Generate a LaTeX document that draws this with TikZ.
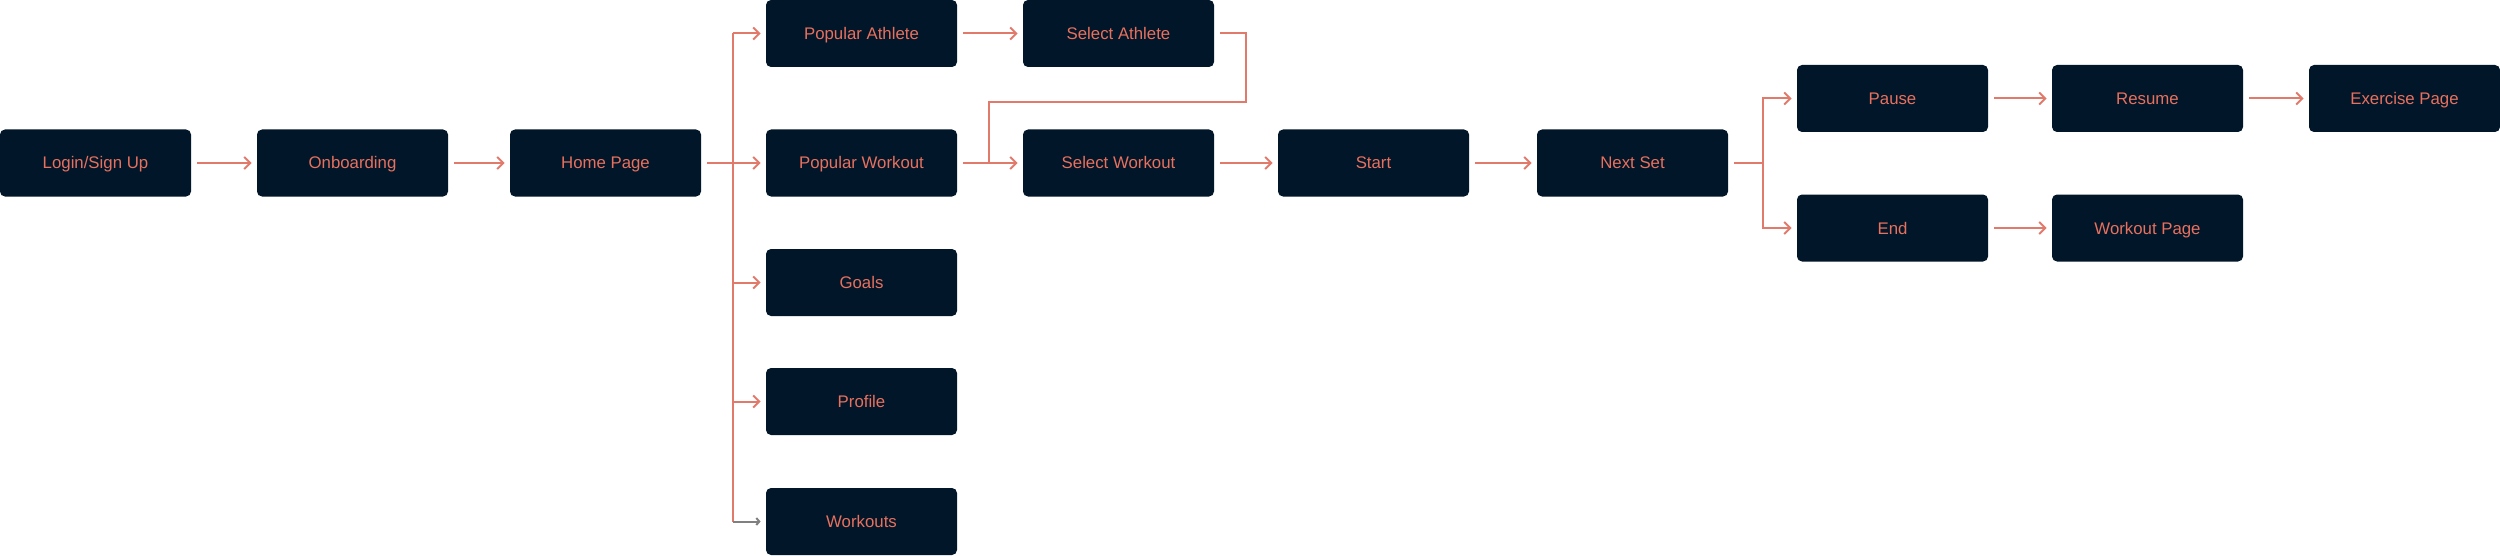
\documentclass[tikz,border=0pt]{standalone}
\usepackage{fontspec}
\setmainfont{Liberation Sans}
\usepackage{tikz}
\usetikzlibrary{arrows.meta}

\definecolor{navy}{HTML}{011628}
\definecolor{salmon}{HTML}{E8705E}
\definecolor{linkred}{HTML}{E27A6B}

\begin{document}
\begin{tikzpicture}[x=0.5pt,y=-0.5pt,
    screen/.style={fill=navy,rounded corners=2.5pt,minimum width=95.5pt,minimum height=33.5pt,
        inner sep=0pt,text=salmon,text height=7.5pt,text depth=1.5pt,
        font=\fontsize{8.4}{10}\selectfont},
    wire/.style={draw=linkred,line width=1pt},
    link/.style={wire,->,shorten >=2.5pt},
    outgap/.style={shorten <=3pt}]
\useasboundingbox (0,0) rectangle (2500,556);
\begin{scope}[>={Straight Barb[length=3pt,width=6pt]}]

    \node[screen] (login)    at (95.5,163)   {Login/Sign Up};
    \node[screen] (onboard)  at (352.5,163)  {Onboarding};
    \node[screen] (home)     at (605.5,163)  {Home Page};
    \node[screen] (popath)   at (861.5,33.5) {Popular Athlete};
    \node[screen] (popwork)  at (861.5,163)  {Popular Workout};
    \node[screen] (goals)    at (861.5,282.5) {Goals};
    \node[screen] (profile)  at (861.5,401.5) {Profile};
    \node[screen] (workouts) at (861.5,521.5) {Workouts};
    \node[screen] (selath)   at (1118.5,33.5) {Select Athlete};
    \node[screen] (selwork)  at (1118.5,163) {Select Workout};
    \node[screen] (start)    at (1373.5,163) {Start};
    \node[screen] (nextset)  at (1632.5,163) {Next Set};
    \node[screen] (pause)    at (1892.5,98.5) {Pause};
    \node[screen] (endset)   at (1892.5,228) {End};
    \node[screen] (resume)   at (2147.5,98.5) {Resume};
    \node[screen] (workpage) at (2147.5,228) {Workout Page};
    \node[screen] (exercise) at (2404.5,98.5) {Exercise Page};

    \coordinate (homefork) at (733,163);
    \coordinate (loopjoin) at (989,163);
    \coordinate (setfork)  at (1763,163);

    \draw[link,outgap] (login) -- (onboard);
    \draw[link,outgap] (onboard) -- (home);
    \draw[link,outgap] (home) -- (popwork);
    \draw[wire] (homefork |- popath.west) -- (homefork |- workouts.west);
    \foreach \n in {popath,goals,profile}
        \draw[link] (homefork |- \n.west) -- (\n.west);
    \draw[gray,line width=1pt,-{Straight Barb[length=1.5pt,width=3.5pt]},shorten >=2.5pt]
        (homefork |- workouts.west) -- (workouts.west);

    \draw[link,outgap] (popath) -- (selath);
    \draw[link,outgap] (popwork) -- (selwork);
    \draw[wire,outgap] (selath.east) -| (1246,102) -| (loopjoin);

    \draw[link,outgap] (selwork) -- (start);
    \draw[link,outgap] (start) -- (nextset);
    \draw[wire,outgap] (nextset) -- (setfork);
    \draw[link] (setfork) |- (pause.west);
    \draw[link] (setfork) |- (endset.west);
    \draw[link,outgap] (pause) -- (resume);
    \draw[link,outgap] (resume) -- (exercise);
    \draw[link,outgap] (endset) -- (workpage);

\end{scope}
\end{tikzpicture}
\end{document}
